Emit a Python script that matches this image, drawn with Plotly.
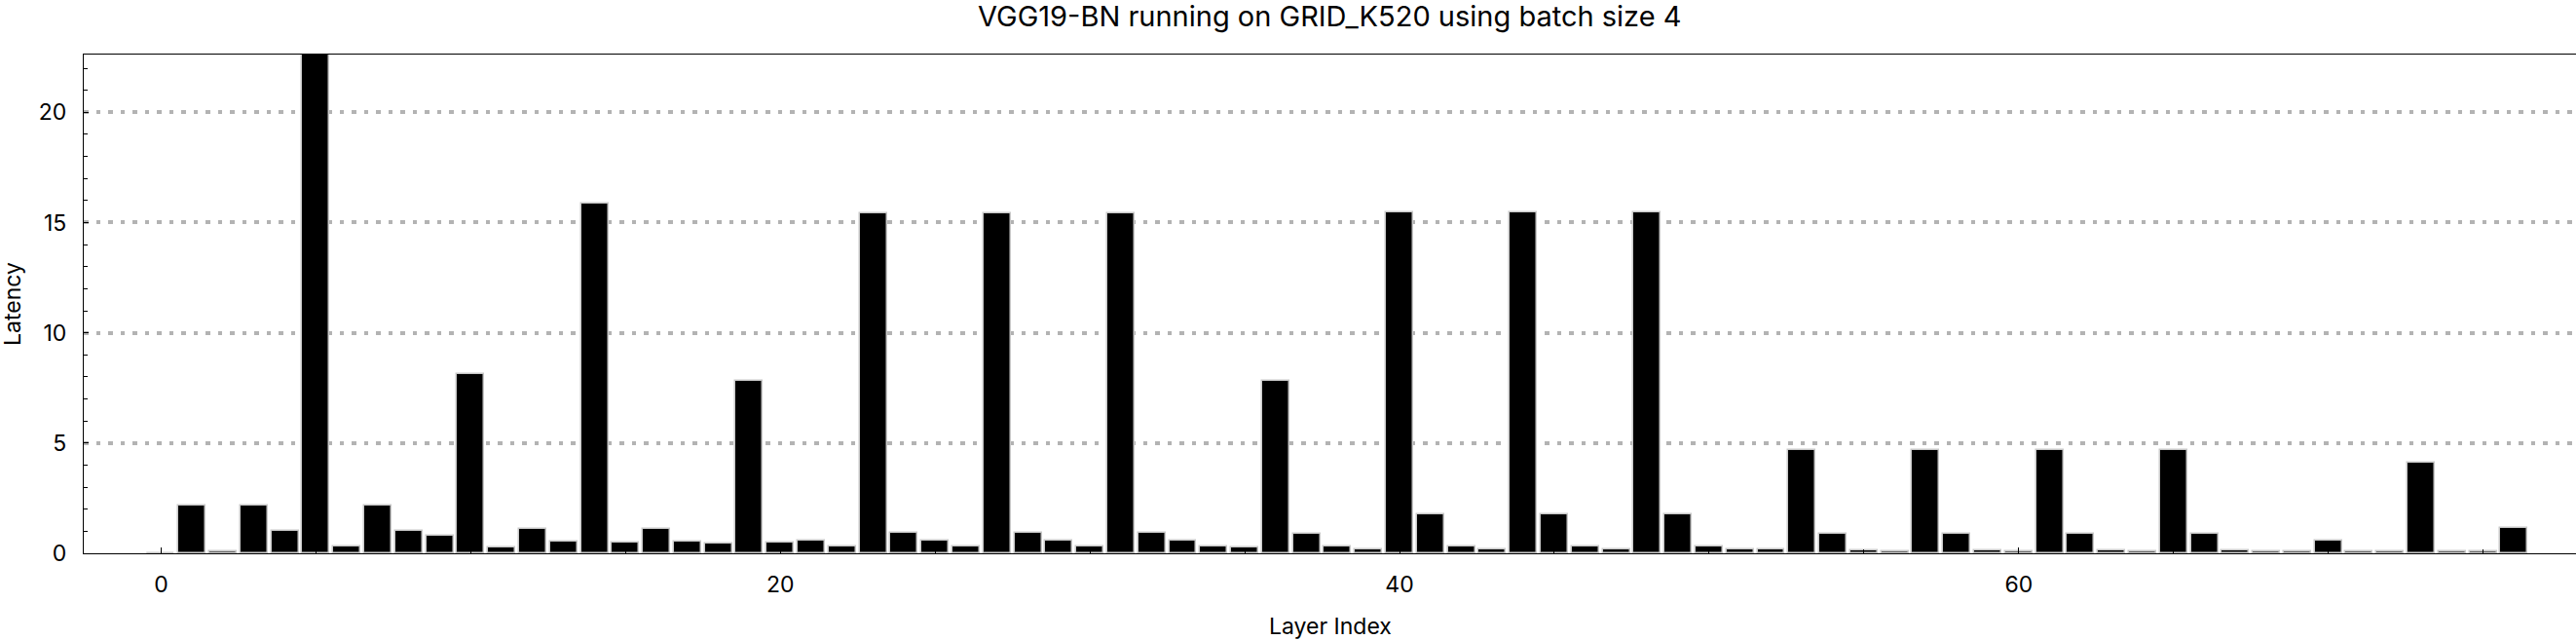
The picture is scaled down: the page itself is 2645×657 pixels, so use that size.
import plotly.graph_objects as go

title_text = "VGG19-BN running on GRID_K520 using batch size 4"
x_label = "Layer Index"
y_label = "Latency"

layer_index = list(range(77))
latency = [
    0.01, 2.16, 0.09, 2.16, 1.02, 22.7, 0.30, 2.16, 1.02, 0.79,
    8.13, 0.28, 1.11, 0.54, 15.84, 0.48, 1.11, 0.54, 0.44, 7.82,
    0.48, 0.57, 0.31, 15.40, 0.94, 0.57, 0.31, 15.40, 0.94, 0.57,
    0.31, 15.40, 0.94, 0.57, 0.31, 0.26, 7.82, 0.89, 0.31, 0.18,
    15.47, 1.76, 0.31, 0.18, 15.47, 1.76, 0.31, 0.18, 15.47, 1.76,
    0.31, 0.18, 0.18, 4.68, 0.89, 0.13, 0.07, 4.68, 0.89, 0.13,
    0.07, 4.68, 0.89, 0.13, 0.07, 4.68, 0.89, 0.13, 0.07, 0.07,
    0.57, 0.07, 0.07, 4.10, 0.07, 0.07, 1.15,
]
x_major_ticks = [0, 20, 40, 60]
y_major_ticks = [0, 5, 10, 15, 20]

FONT = "Inter"

fig = go.Figure()
fig.add_trace(go.Bar(
    x=layer_index, y=latency,
    width=0.88,
    marker=dict(color="black", line=dict(color="#c8c8c8", width=1.5)),
    showlegend=False,
))

fig.update_layout(
    width=2645, height=657,
    margin=dict(l=86, r=0, t=56, b=89),
    paper_bgcolor="white", plot_bgcolor="white",
    font=dict(family=FONT, size=23, color="black"),
    bargap=0,
    xaxis=dict(
        range=[-2.5, 78.0],
        tickmode="array", tickvals=x_major_ticks,
        ticks="inside", ticklen=6, tickcolor="black", tickwidth=1,
        showline=True, linecolor="black", linewidth=1.2, mirror=True,
        showgrid=False, zeroline=False,
        minor=dict(dtick=5, tick0=0, ticks="inside", ticklen=4, tickcolor="black", showgrid=False),
        ticklabelstandoff=11,
        tickfont=dict(size=23),
    ),
    yaxis=dict(
        range=[0, 22.62],
        tickmode="array", tickvals=y_major_ticks,
        ticks="inside", ticklen=5, tickcolor="black", tickwidth=1,
        showline=True, linecolor="black", linewidth=1.2, mirror=False,
        showgrid=True, gridcolor="#b3b3b3", gridwidth=4, griddash="4.5px,8px",
        zeroline=False,
        minor=dict(dtick=1, tick0=0, ticks="inside", ticklen=4, tickcolor="black", showgrid=False),
        ticklabelstandoff=12,
        tickfont=dict(size=23),
    ),
    annotations=[
        dict(text=title_text, x=0.5, y=1, xref="paper", yref="paper",
             xanchor="center", yanchor="middle", yshift=39.5, showarrow=False,
             font=dict(family=FONT, size=29)),
        dict(text=x_label, x=0.5, y=0, xref="paper", yref="paper",
             xanchor="center", yanchor="middle", yshift=-74.5, showarrow=False,
             font=dict(family=FONT, size=23)),
        dict(text=y_label, x=0, y=0.5, xref="paper", yref="paper",
             xanchor="center", yanchor="middle", xshift=-73, textangle=-90, showarrow=False,
             font=dict(family=FONT, size=23)),
    ],
)

fig.write_html(
    "out.html",
    config={"displayModeBar": False},
    post_script="document.body.style.margin='0';document.body.style.overflow='hidden';",
)
